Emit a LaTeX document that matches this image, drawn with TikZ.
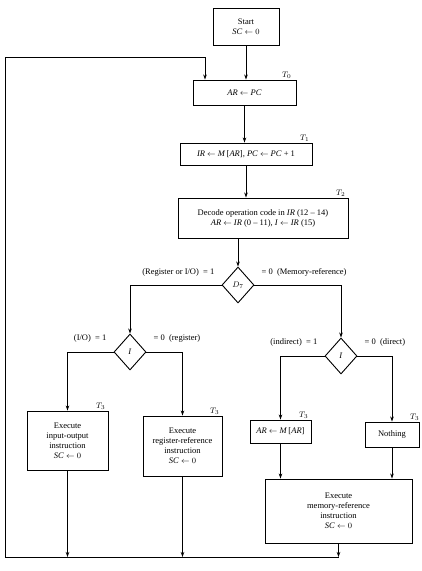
\documentclass[tikz,border=0pt]{standalone}
\usepackage{fontspec}
\setmainfont{Liberation Serif}
\usetikzlibrary{arrows.meta,shapes.geometric}
\begin{document}
\begin{tikzpicture}[x=1pt,y=-1pt,
  every node/.style={font=\fontsize{8.5}{10}\selectfont},
  box/.style={draw,line width=0.9pt,align=center,inner sep=1pt},
  dec/.style={draw,line width=0.9pt,diamond,inner sep=0pt,minimum width=32pt,minimum height=36pt},
  flow/.style={line width=0.9pt},
  arr/.style={flow,-{Stealth[length=5pt,width=3.5pt]}},
  tlab/.style={inner sep=1pt,anchor=south east},
  cond/.style={inner sep=1pt}]
\useasboundingbox (0,0) rectangle (422,571);

% register transfers of the fetch and decode phase
\node[box,minimum width=66pt,minimum height=37pt] (start) at (246,27) {Start\\ \textit{SC} $\gets 0$};
\node[box,minimum width=103pt,minimum height=25pt] (t0) at (244.5,92.5) {\textit{AR} $\gets$ \textit{PC}};
\node[box,minimum width=132pt,minimum height=22pt] (t1) at (246,154) {\textit{IR} $\gets$ \textit{M}\,[\textit{AR}], \textit{PC} $\gets$ \textit{PC} + 1};
\node[box,minimum width=170pt,minimum height=40pt] (t2) at (263,218) {Decode operation code in \textit{IR} (12 -- 14)\\ \textit{AR} $\gets$ \textit{IR} (0 -- 11), \textit{I} $\gets$ \textit{IR} (15)};
\node[tlab] at ([xshift=-4pt]t0.north east) {$T_0$};
\node[tlab] at ([xshift=-2pt]t1.north east) {$T_1$};
\node[tlab] at ([xshift=-2pt]t2.north east) {$T_2$};

% decisions
\node[dec] (d7) at (238,285) {$D_7$};
\node[dec] (il) at (130,352) {\textit{I}};
\node[dec] (ir) at (341,356) {\textit{I}};

\node[cond,anchor=base east] at ([shift={(-6,-11)}]d7.west) {(Register or I/O) \ = 1};
\node[cond,anchor=base west] at ([shift={(6,-11)}]d7.east) {= 0 \ (Memory-reference)};
\node[cond,anchor=base east] at ([shift={(-6,-12)}]il.west) {(I/O) \ = 1};
\node[cond,anchor=base west] at ([shift={(6,-12)}]il.east) {= 0 \ (register)};
\node[cond,anchor=base east] at ([shift={(-6,-12)}]ir.west) {(indirect) \ = 1};
\node[cond,anchor=base west] at ([shift={(6,-12)}]ir.east) {= 0 \ (direct)};

% execute phase
\node[box,minimum width=81pt,minimum height=59pt] (io) at (67.5,440.5) {Execute\\ input-output\\ instruction\\ \textit{SC} $\gets 0$};
\node[box,minimum width=79pt,minimum height=60pt] (reg) at (182.5,446) {Execute\\ register-reference\\ instruction\\ \textit{SC} $\gets 0$};
\node[box,minimum width=61pt,minimum height=23pt] (ar) at (280.5,431.5) {\textit{AR} $\gets$ \textit{M}\,[\textit{AR}]};
\node[box,minimum width=54pt,minimum height=25pt] (no) at (392,434.5) {Nothing};
\node[box,minimum width=147pt,minimum height=64pt] (mem) at (338.5,511) {Execute\\ memory-reference\\ instruction\\ \textit{SC} $\gets 0$};
\node[tlab] at ([xshift=-2pt]io.north east) {$T_3$};
\node[tlab] at ([xshift=-2pt]reg.north east) {$T_3$};
\node[tlab] at ([xshift=-2pt]ar.north east) {$T_3$};
\node[tlab] at ([xshift=1pt]no.north east) {$T_3$};

% connectors
\coordinate (bl) at (5,557);
\coordinate (tl) at (5,57);
\coordinate (tr) at (205,57);
\coordinate (ioEnd) at (io.south |- bl);
\coordinate (regEnd) at (reg.south |- bl);
\coordinate (memEnd) at (mem.south |- bl);

\draw[arr] (start.south) -- (start.south |- t0.north);
\draw[arr] (t0.south) -- (t0.south |- t1.north);
\draw[arr] (t1.south) -- (t1.south |- t2.north);
\draw[arr] (d7.north |- t2.south) -- (d7.north);

\draw[arr] (d7.west) -| (il.north);
\draw[arr] (d7.east) -| (ir.north);
\draw[arr] (il.west) -| (io.north);
\draw[arr] (il.east) -| (reg.north);
\draw[arr] (ir.west) -| (ar.north);
\draw[arr] (ir.east) -| (no.north);
\draw[arr] (ar.south) -- (ar.south |- mem.north);
\draw[arr] (no.south) -- (no.south |- mem.north);

\draw[arr] (io.south) -- (ioEnd);
\draw[arr] (reg.south) -- (regEnd);
\draw[arr] (mem.south) -- (memEnd);
\draw[arr] (memEnd) -- (bl) -- (tl) -- (tr) -- (tr |- t0.north);
\end{tikzpicture}
\end{document}
